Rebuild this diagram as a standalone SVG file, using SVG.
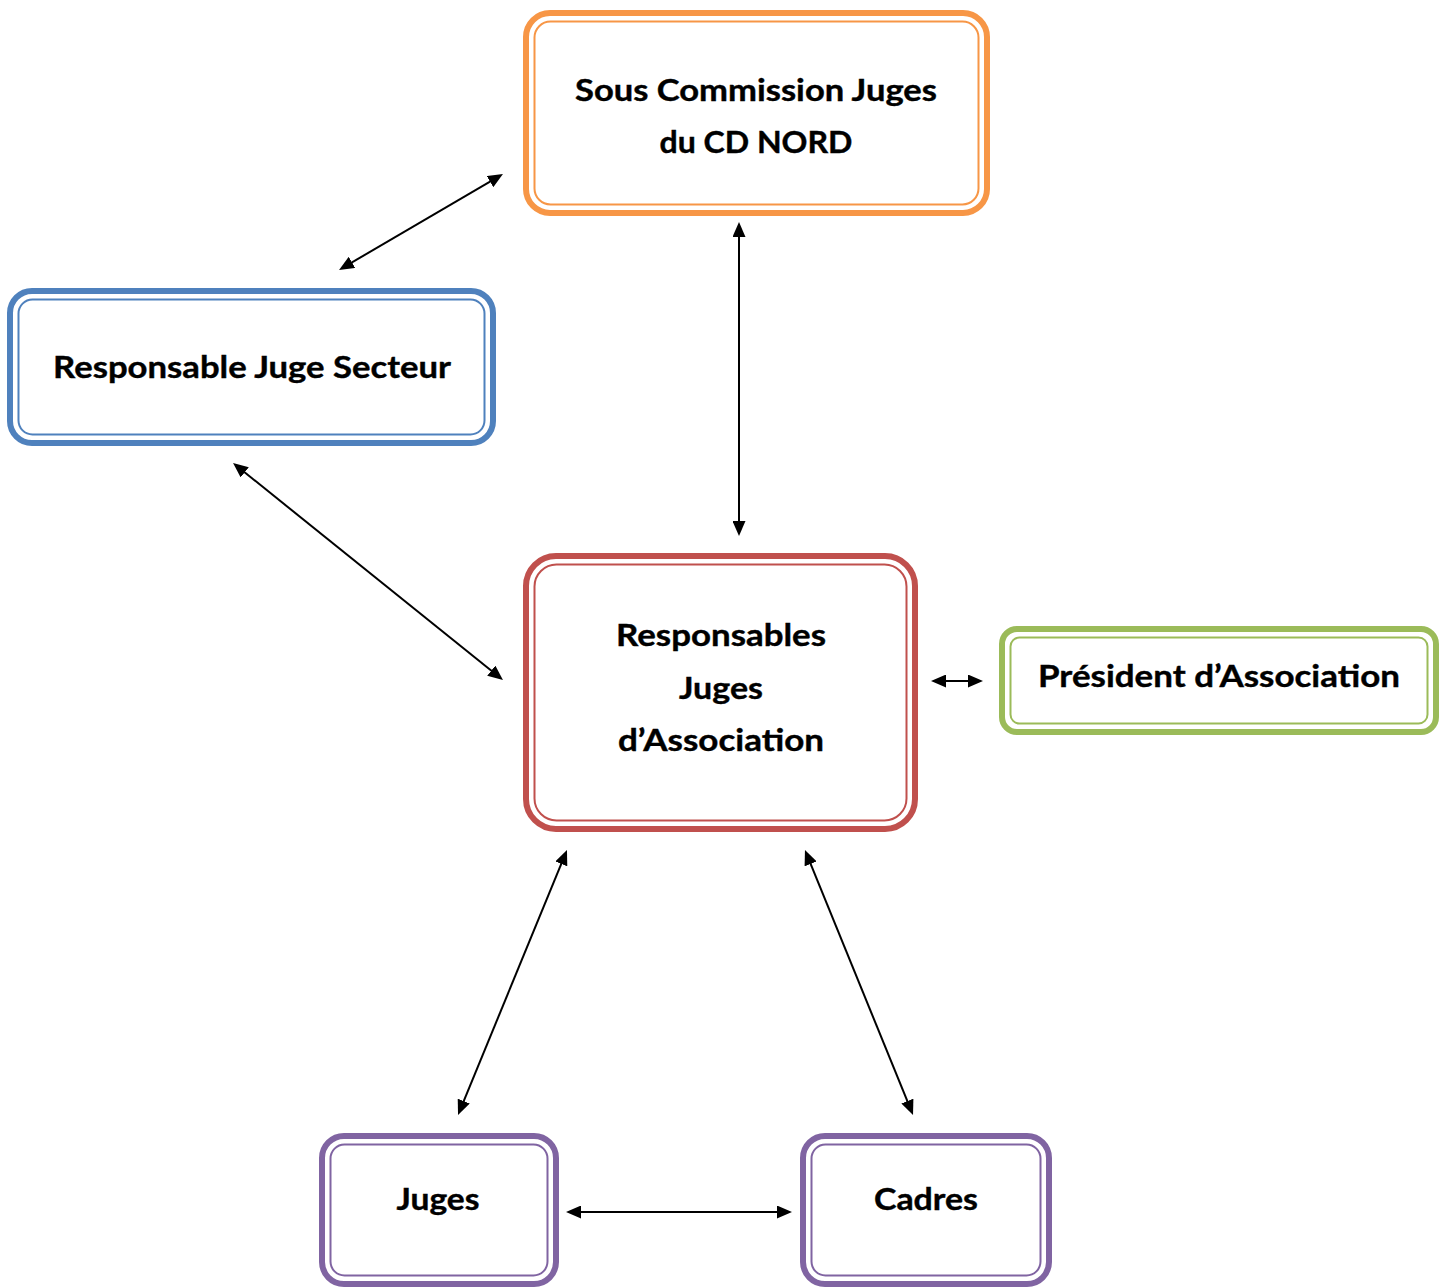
<svg xmlns="http://www.w3.org/2000/svg" width="1445" height="1287" viewBox="0 0 1445 1287">
<style>
.o{fill:#fff;stroke-width:6}
.i{fill:none;stroke-width:2}
.t{font-family:Lato,"Open Sans","Liberation Sans",sans-serif;font-weight:bold;font-size:31px;fill:#000;text-anchor:middle;stroke:#000;stroke-width:0.4}
.c{stroke:#000;stroke-width:2;fill:none;marker-start:url(#ah);marker-end:url(#ah)}
</style>
<defs>
<marker id="ah" markerUnits="userSpaceOnUse" markerWidth="15" markerHeight="13" viewBox="0 0 15 13" refX="3" refY="6.5" orient="auto-start-reverse">
<path d="M0,0 L15,6.5 L0,13 z" fill="#000"/>
</marker>
</defs>
<rect width="1445" height="1287" fill="#fff"/>
<g id="sous-commission">
<rect class="o" x="526" y="13" width="461" height="200" rx="24" stroke="#F79646"/>
<rect class="i" x="534.5" y="21.5" width="444" height="183" rx="16" stroke="#F79646"/>
<text class="t" x="756" y="101" textLength="362" lengthAdjust="spacingAndGlyphs">Sous Commission Juges</text>
<text class="t" x="756" y="153" textLength="193" lengthAdjust="spacingAndGlyphs">du CD NORD</text>
</g>
<g id="responsable-secteur">
<rect class="o" x="10" y="291" width="483" height="152" rx="22" stroke="#4F81BD"/>
<rect class="i" x="18.5" y="299.5" width="466" height="135" rx="14" stroke="#4F81BD"/>
<text class="t" x="252" y="378" textLength="398" lengthAdjust="spacingAndGlyphs">Responsable Juge Secteur</text>
</g>
<g id="responsables-association">
<rect class="o" x="526" y="556" width="389" height="273" rx="30" stroke="#C0504D"/>
<rect class="i" x="534.5" y="564.5" width="372" height="256" rx="22" stroke="#C0504D"/>
<text class="t" x="721" y="646" textLength="210" lengthAdjust="spacingAndGlyphs">Responsables</text>
<text class="t" x="721" y="699" textLength="84" lengthAdjust="spacingAndGlyphs">Juges</text>
<text class="t" x="721" y="751" textLength="206" lengthAdjust="spacingAndGlyphs">d’Association</text>
</g>
<g id="president">
<rect class="o" x="1002" y="629" width="434" height="103" rx="15" stroke="#9BBB59"/>
<rect class="i" x="1010.5" y="637.5" width="417" height="86" rx="9" stroke="#9BBB59"/>
<text class="t" x="1219" y="687" textLength="362" lengthAdjust="spacingAndGlyphs">Président d’Association</text>
</g>
<g id="juges">
<rect class="o" x="322" y="1136" width="234" height="148" rx="22" stroke="#8064A2"/>
<rect class="i" x="330.5" y="1144.5" width="217" height="131" rx="14" stroke="#8064A2"/>
<text class="t" x="438" y="1210" textLength="83" lengthAdjust="spacingAndGlyphs">Juges</text>
</g>
<g id="cadres">
<rect class="o" x="803" y="1136" width="246" height="148" rx="22" stroke="#8064A2"/>
<rect class="i" x="811.5" y="1144.5" width="229" height="131" rx="14" stroke="#8064A2"/>
<text class="t" x="926" y="1210" textLength="104" lengthAdjust="spacingAndGlyphs">Cadres</text>
</g>
<g id="connectors">
<line class="c" x1="349.4" y1="263.9" x2="492.6" y2="180.1"/>
<line class="c" x1="739" y1="234" x2="739" y2="524"/>
<line class="c" x1="242.4" y1="470.5" x2="493.6" y2="672.5"/>
<line class="c" x1="943" y1="681" x2="971" y2="681"/>
<line class="c" x1="562.4" y1="861.1" x2="462.6" y2="1103.9"/>
<line class="c" x1="809.5" y1="861.1" x2="908.5" y2="1103.9"/>
<line class="c" x1="578" y1="1212" x2="780" y2="1212"/>
</g>
</svg>
